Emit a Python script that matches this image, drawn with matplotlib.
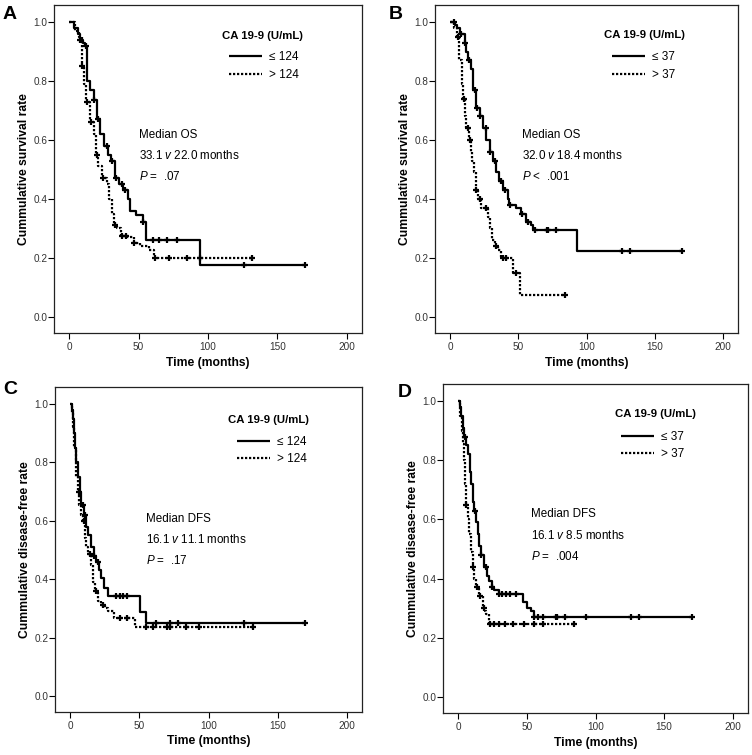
import numpy as np
import matplotlib
matplotlib.use("Agg")
import matplotlib.pyplot as plt

plt.rcParams['font.family'] = ['Liberation Sans', 'DejaVu Sans']
plt.rcParams['mathtext.fontset'] = 'custom'
plt.rcParams['mathtext.rm'] = 'Liberation Sans'
plt.rcParams['mathtext.it'] = 'Liberation Sans:italic'

# ---------------- data ----------------
# Panel A: OS, cut-off 124
a_low_t = [0, 3.6, 6, 8, 10, 11.6, 13, 15, 17.6, 20, 22, 25, 28, 30, 33, 36, 39, 42, 44, 48, 53, 55.5, 94]
a_low_s = [1.0, 0.98, 0.96, 0.94, 0.93, 0.92, 0.80, 0.77, 0.736, 0.67, 0.62, 0.58, 0.55, 0.53, 0.47, 0.45, 0.43, 0.40, 0.36, 0.345, 0.32, 0.26, 0.175]
a_low_end = 170
a_low_c = [8, 12, 18, 21, 27, 31, 34, 38, 40, 53, 60, 64.7, 70.8, 78, 125.6, 170]
a_high_t = [0, 4, 7, 9, 10.4, 12.3, 15, 17.6, 19.6, 21, 23.7, 27, 28.5, 31, 32, 34.5, 37, 42, 46.6, 51, 57.5, 61]
a_high_s = [1.0, 0.97, 0.95, 0.85, 0.79, 0.73, 0.66, 0.62, 0.55, 0.51, 0.47, 0.45, 0.40, 0.35, 0.31, 0.30, 0.275, 0.27, 0.25, 0.24, 0.225, 0.20]
a_high_end = 132
a_high_c = [9, 13, 16, 20, 24, 33, 38, 41, 47, 62, 72, 85, 94, 132]

# Panel B: OS, cut-off 37
b_low_t = [0, 4, 5, 7, 11, 12, 13.3, 15.7, 17, 19.3, 21.8, 24, 26.6, 29, 31.4, 34, 36, 38.7, 42.3, 43.5, 48.4, 52, 55.6, 59, 61, 93]
b_low_s = [1.0, 0.99, 0.98, 0.96, 0.93, 0.90, 0.87, 0.84, 0.77, 0.71, 0.68, 0.64, 0.60, 0.56, 0.53, 0.49, 0.46, 0.43, 0.40, 0.38, 0.37, 0.35, 0.32, 0.31, 0.295, 0.222]
b_low_end = 170
b_low_c = [3, 8, 11, 14, 18, 20, 22, 26, 29, 33, 37, 40, 44, 53, 57, 62, 71, 72, 78, 126, 132, 170]
b_high_t = [0, 3, 5, 6.5, 8.5, 9.2, 11, 12, 13.8, 15.2, 16.4, 17.6, 18.9, 20.5, 23, 27.8, 29.5, 30.7, 32.6, 35.5, 37.5, 46, 51.3]
b_high_s = [1.0, 0.98, 0.95, 0.87, 0.79, 0.74, 0.68, 0.64, 0.60, 0.56, 0.53, 0.49, 0.43, 0.40, 0.37, 0.34, 0.30, 0.26, 0.24, 0.225, 0.20, 0.15, 0.075]
b_high_end = 84
b_high_c = [6, 10, 13, 15, 19, 22, 26, 34, 39, 41, 48, 84]

# Panel C: DFS, cut-off 124
c_low_t = [0, 1.5, 2, 3, 3.5, 4.3, 5.6, 7, 8, 10, 11.6, 13, 15, 17, 18.8, 21, 22.5, 24.7, 27, 50.7, 55]
c_low_s = [1.0, 0.98, 0.95, 0.90, 0.85, 0.80, 0.75, 0.70, 0.655, 0.62, 0.58, 0.55, 0.51, 0.48, 0.46, 0.43, 0.405, 0.37, 0.342, 0.287, 0.249]
c_low_end = 170
c_low_c = [9, 11, 17, 20, 33, 36, 38, 41, 62, 72, 78, 126, 170]
c_high_t = [0, 1.5, 2, 3, 4.3, 5.5, 6.7, 8, 9, 10.4, 11.5, 12.8, 15, 16.4, 17.6, 20, 22.5, 24.9, 27, 32, 47]
c_high_s = [1.0, 0.97, 0.92, 0.85, 0.75, 0.70, 0.655, 0.62, 0.60, 0.54, 0.51, 0.485, 0.45, 0.39, 0.36, 0.325, 0.31, 0.30, 0.29, 0.266, 0.236]
c_high_end = 132
c_high_c = [6, 10, 14, 19, 24, 36, 41, 55, 60, 70, 72, 84, 93, 132]

# Panel D: DFS, cut-off 37
d_low_t = [0, 1.5, 2.2, 3.5, 4.6, 5.5, 7, 8.5, 9.5, 11, 11.9, 13, 14.3, 15.5, 16.7, 19, 21, 22.8, 24.5, 26.4, 30, 47.5, 50, 53, 55]
d_low_s = [1.0, 0.98, 0.95, 0.91, 0.88, 0.85, 0.82, 0.76, 0.72, 0.66, 0.63, 0.59, 0.55, 0.51, 0.48, 0.44, 0.41, 0.39, 0.37, 0.36, 0.348, 0.32, 0.30, 0.29, 0.271]
d_low_end = 170
d_low_c = [5, 12, 17, 20, 25, 30, 32, 35, 38, 42, 55, 58, 62, 71, 72, 78, 93, 126, 132, 170]
d_high_t = [0, 1.5, 2.5, 3.4, 4.6, 5.2, 5.8, 7, 8.2, 9.5, 10.7, 11.8, 13, 15.5, 18, 19.5, 20.4, 22.8]
d_high_s = [1.0, 0.95, 0.90, 0.855, 0.80, 0.72, 0.65, 0.60, 0.55, 0.49, 0.44, 0.40, 0.37, 0.34, 0.30, 0.29, 0.28, 0.245]
d_high_end = 84
d_high_c = [6, 11, 14, 16, 19, 23, 26, 30, 34, 40, 48, 55, 62, 84]

panel_letters = ["A", "B", "C", "D"]
ylabels = ["Cummulative survival rate", "Cummulative survival rate",
           "Cummulative disease-free rate", "Cummulative disease-free rate"]
legend_title = "CA 19-9 (U/mL)"
legend_labels = [["\u2264 124", "> 124"], ["\u2264 37", "> 37"],
                 ["\u2264 124", "> 124"], ["\u2264 37", "> 37"]]
annotations = [["Median OS", "33.1 $\\mathit{v}$ 22.0 months", "$\\mathit{P}$ =  .07"],
               ["Median OS", "32.0 $\\mathit{v}$ 18.4 months", "$\\mathit{P}$ <  .001"],
               ["Median DFS", "16.1 $\\mathit{v}$ 11.1 months", "$\\mathit{P}$ =  .17"],
               ["Median DFS", "16.1 $\\mathit{v}$ 8.5 months", "$\\mathit{P}$ =  .004"]]
xticks = [0, 50, 100, 150, 200]
yticks = [0.0, 0.2, 0.4, 0.6, 0.8, 1.0]

series = [
    [(a_low_t, a_low_s, a_low_end, a_low_c), (a_high_t, a_high_s, a_high_end, a_high_c)],
    [(b_low_t, b_low_s, b_low_end, b_low_c), (b_high_t, b_high_s, b_high_end, b_high_c)],
    [(c_low_t, c_low_s, c_low_end, c_low_c), (c_high_t, c_high_s, c_high_end, c_high_c)],
    [(d_low_t, d_low_s, d_low_end, d_low_c), (d_high_t, d_high_s, d_high_end, d_high_c)],
]

# ---------------- layout ----------------
W, H = 752, 755
fig = plt.figure(figsize=(W / 100, H / 100), dpi=100)
boxes = [(54, 5, 362, 333), (435, 5, 738, 333), (55, 387, 362, 712), (443, 384, 748, 713)]
letter_pos = [(3, 6), (389, 6), (3, 381), (398, 384)]
ann_x = [50, 53, 55, 53]
ann_y = [[0.617, 0.547, 0.476], [0.617, 0.547, 0.476],
         [0.607, 0.535, 0.465], [0.619, 0.547, 0.476]]
title_xy = [(139.6, 0.954), (142.7, 0.955), (143.2, 0.945), (143.5, 0.957)]
leg_left = [115, 118.5, 120.3, 118.8]
leg_mid = [0.851, 0.851, 0.841, 0.850]

styles = [dict(color='black', lw=1.6, ls='-'),
          dict(color='black', lw=1.6, ls=(0, (1.0, 0.8)))]

for i in range(4):
    x0, y0, x1, y1 = boxes[i]
    ax = fig.add_axes([x0 / W, 1 - y1 / H, (x1 - x0) / W, (y1 - y0) / H])
    handles = []
    for k, (t, s, end, cens) in enumerate(series[i]):
        t = np.asarray(t, float)
        s = np.asarray(s, float)
        xs = np.append(t, end)
        ys = np.append(s, s[-1])
        ln, = ax.step(xs, ys, where='post', solid_capstyle='butt', **styles[k])
        cens = np.asarray(cens, float)
        idx = np.searchsorted(t, cens, side='right') - 1
        ax.plot(cens, s[idx], ls='none', marker='+', ms=5, mew=1.6, color='black')
        handles.append(ln)
    ax.set_xlim(-11, 211)
    ax.set_ylim(-0.055, 1.058)
    ax.set_xticks(xticks)
    ax.set_yticks(yticks)
    ax.set_xticklabels([str(v) for v in xticks])
    ax.set_yticklabels([f"{v:.1f}" for v in yticks])
    ax.tick_params(direction='out', length=4, width=0.8, labelsize=7.2,
                   labelcolor='#333333', pad=0.8)
    ax.tick_params(axis='x', pad=2.5)
    for sp in ax.spines.values():
        sp.set_linewidth(0.9)
        sp.set_color('#222222')
    ax.set_xlabel("Time (months)", fontsize=8.7, fontweight='bold')
    ax.set_ylabel(ylabels[i], fontsize=8.7, fontweight='bold')
    ax.xaxis.set_label_coords(0.5, -0.072)
    ax.yaxis.set_label_coords(-0.078, 0.5)

    ax.text(title_xy[i][0], title_xy[i][1], legend_title, fontsize=8.2,
            fontweight='bold', ha='center', va='center')
    ax.legend(handles, legend_labels[i], loc='center left',
              bbox_to_anchor=(leg_left[i], leg_mid[i]),
              bbox_transform=ax.transData, frameon=False, fontsize=8.5,
              handlelength=2.8, handletextpad=0.6, labelspacing=0.45,
              borderpad=0, borderaxespad=0)
    for j, line in enumerate(annotations[i]):
        ax.text(ann_x[i], ann_y[i][j], line, fontsize=8.4, va='center', ha='left')

    lx, ly = letter_pos[i]
    fig.text(lx / W, 1 - ly / H, panel_letters[i], fontsize=14, fontweight='bold',
             ha='left', va='top')

fig.savefig("out.png", dpi=100)
